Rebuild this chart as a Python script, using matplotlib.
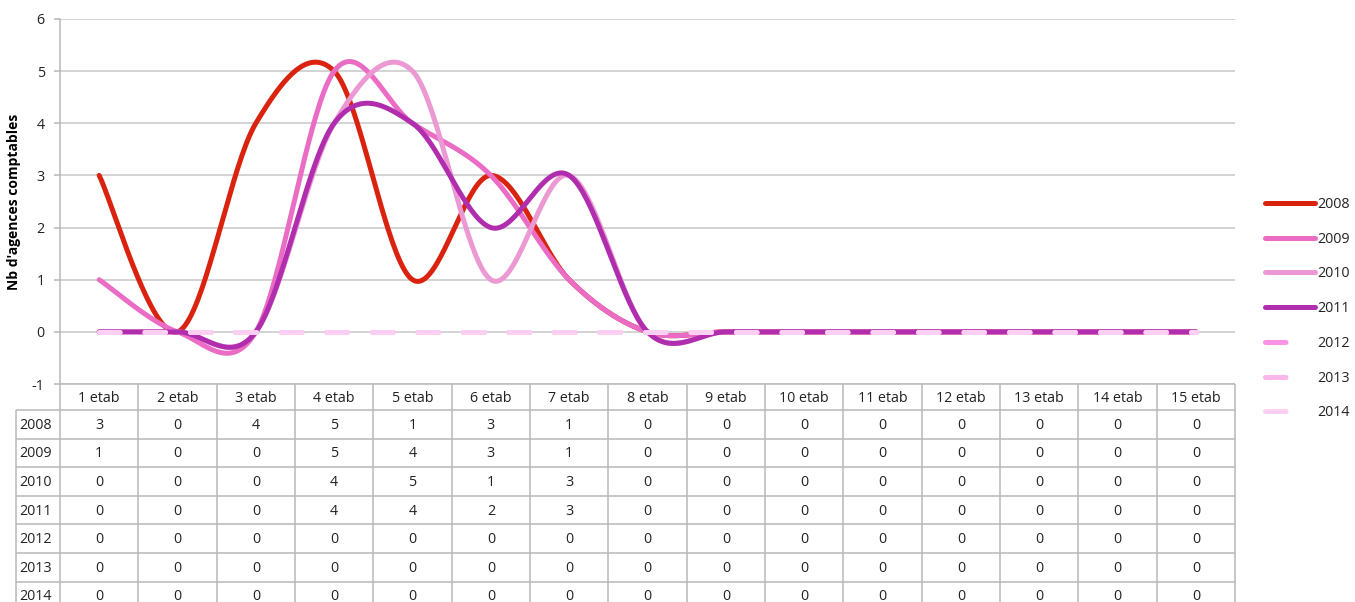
import numpy as np
import matplotlib
matplotlib.use('Agg')
import matplotlib.pyplot as plt
from matplotlib.lines import Line2D

plt.rcParams['font.family'] = ['Open Sans', 'DejaVu Sans']
plt.rcParams['axes.unicode_minus'] = False

# ── données ──────────────────────────────────────────────
CATEGORIES = [f'{i} etab' for i in range(1, 16)]
YEARS = ['2008', '2009', '2010', '2011', '2012', '2013', '2014']

V2008 = [3, 0, 4, 5, 1, 3, 1, 0, 0, 0, 0, 0, 0, 0, 0]
V2009 = [1, 0, 0, 5, 4, 3, 1, 0, 0, 0, 0, 0, 0, 0, 0]
V2010 = [0, 0, 0, 4, 5, 1, 3, 0, 0, 0, 0, 0, 0, 0, 0]
V2011 = [0, 0, 0, 4, 4, 2, 3, 0, 0, 0, 0, 0, 0, 0, 0]
V2012 = [0] * 15
V2013 = [0] * 15
V2014 = [0] * 15
SERIES = [V2008, V2009, V2010, V2011, V2012, V2013, V2014]

COLORS = ['#d9230f', '#ea6cc4', '#ec98d2', '#b02eae',
          '#f993e6', '#fbb6ec', '#fdcff2']
DASHED = [False, False, False, False, True, True, True]

GRID_C = '#c8c8c8'
TABLE_C = '#b8b8b8'
TXT_C = '#222222'
FS = 10.3
LW = 3.6
DASH = (4.1, 5.0)


def smooth(xs, ys, n=40):
    """Courbe lissée type Catmull-Rom passant par tous les points."""
    p = np.column_stack([xs, ys]).astype(float)
    p = np.vstack([p[0], p, p[-1]])
    t = np.linspace(0, 1, n)[:, None]
    out = []
    for i in range(1, len(p) - 2):
        p0, p1, p2, p3 = p[i - 1], p[i], p[i + 1], p[i + 2]
        seg = 0.5 * (2 * p1 + (-p0 + p2) * t
                     + (2 * p0 - 5 * p1 + 4 * p2 - p3) * t ** 2
                     + (-p0 + 3 * p1 - 3 * p2 + p3) * t ** 3)
        out.append(seg if i == 1 else seg[1:])
    out = np.vstack(out)
    return out[:, 0], out[:, 1]


W, H = 1355, 602
fig = plt.figure(figsize=(W / 100, H / 100), dpi=100)
fig.patch.set_facecolor('white')

L, R, T, B = 60, 1235, 19, 384
ax = fig.add_axes([L / W, 1 - B / H, (R - L) / W, (B - T) / H])

x = np.arange(1, len(CATEGORIES) + 1)
for vals, col, dashed in zip(SERIES, COLORS, DASHED):
    sx, sy = smooth(x, vals)
    ln, = ax.plot(sx, sy, color=col, lw=LW, solid_capstyle='round',
                  dash_capstyle='round', zorder=3)
    if dashed:
        ln.set_dashes(DASH)

ax.set_xlim(0.5, len(CATEGORIES) + 0.5)
ax.set_ylim(-1, 6)
ax.set_yticks(range(-1, 7))
ax.set_xticks([])
ax.grid(axis='y', color=GRID_C, lw=1.1, zorder=0)
ax.set_axisbelow(True)
for s in ['top', 'right', 'bottom']:
    ax.spines[s].set_visible(False)
ax.spines['left'].set_color(TABLE_C)
ax.spines['left'].set_linewidth(1.1)
ax.tick_params(axis='y', length=4, width=1.1, color=TABLE_C, pad=7,
               labelsize=FS, labelcolor=TXT_C)
ax.set_ylabel("Nb d'agences comptables", fontsize=10, fontweight='bold')
ax.yaxis.set_label_coords(-0.033, 0.5)

# ── tableau de données sous le graphique ───────────────
tax = fig.add_axes([L / W, 0, (R - L) / W, (H - B) / H])
tax.set_xlim(ax.get_xlim())
tax.set_ylim(H - B, 0)
tax.axis('off')

HEAD = 26
ROW = 28.6
xl = 0.5 - (L - 16) / ((R - L) / len(CATEGORIES))
n_rows = len(YEARS)
bottom = HEAD + ROW * n_rows
kw = dict(color=TABLE_C, lw=1.1, clip_on=False, solid_capstyle='butt')

tax.plot([0.5, len(CATEGORIES) + 0.5], [0, 0], **kw)
for k in range(n_rows + 1):
    yy = HEAD + ROW * k
    tax.plot([xl, len(CATEGORIES) + 0.5], [yy, yy], **kw)
for k in range(len(CATEGORIES) + 1):
    tax.plot([0.5 + k, 0.5 + k], [0, bottom], **kw)
tax.plot([xl, xl], [HEAD, bottom], **kw)

for i, c in enumerate(CATEGORIES):
    tax.text(i + 1, HEAD / 2 + 1, c, ha='center', va='center',
             fontsize=FS, color=TXT_C, clip_on=False)
for r, (yr, vals) in enumerate(zip(YEARS, SERIES)):
    yc = HEAD + ROW * (r + 0.5) + 1
    tax.text(xl + 0.045, yc, yr, ha='left', va='center', fontsize=FS,
             color=TXT_C, clip_on=False)
    for i, v in enumerate(vals):
        tax.text(i + 1, yc, str(v), ha='center', va='center', fontsize=FS,
                 color=TXT_C, clip_on=False)

# ── légende ─────────────────────────────────────────────
handles = []
for yr, col, dashed in zip(YEARS, COLORS, DASHED):
    h = Line2D([0], [0], color=col, lw=LW, solid_capstyle='round',
               dash_capstyle='round', label=yr)
    if dashed:
        h.set_dashes((4.1, 8.0))
    handles.append(h)
fig.legend(handles=handles, loc='upper left',
           bbox_to_anchor=(1265 / W, 1 - 197 / H), frameon=False,
           fontsize=FS, handlelength=3.5, handletextpad=0.15,
           labelspacing=1.38, borderpad=0, borderaxespad=0,
           labelcolor=TXT_C)

fig.savefig('out.png', dpi=100, facecolor='white')
